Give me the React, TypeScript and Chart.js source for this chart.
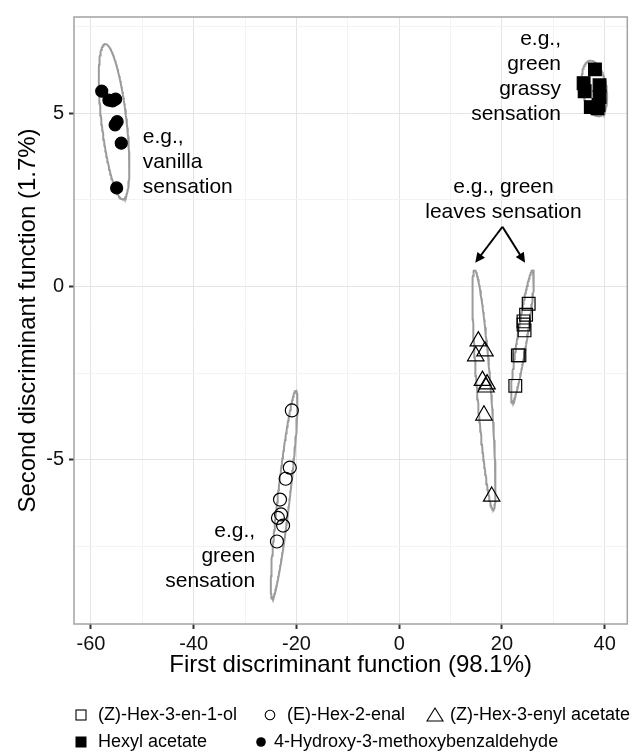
import React, { useEffect, useRef } from 'react';
import { Chart, registerables } from 'chart.js';

Chart.register(...registerables);

// ---- data ----
const hexenolX = [25.2, 24.7, 24.2, 24.2, 24.4, 23.1, 23.4, 22.6];
const hexenolY = [-0.5, -0.82, -1.01, -1.1, -1.27, -1.99, -1.99, -2.87];
const hexenalX = [-20.9, -21.3, -22.1, -23.2, -23.0, -23.6, -22.6, -23.8];
const hexenalY = [-3.58, -5.23, -5.55, -6.15, -6.58, -6.68, -6.9, -7.36];
const hexenylAcetateX = [15.4, 16.7, 14.9, 16.2, 17.1, 16.9, 16.5, 18.0];
const hexenylAcetateY = [-1.58, -1.87, -2.01, -2.72, -2.82, -2.91, -3.72, -6.06];
const hexylAcetateX = [38.1, 35.9, 36.1, 39.0, 39.0, 38.8, 37.3, 38.6];
const hexylAcetateY = [6.26, 5.86, 5.63, 5.8, 5.46, 5.23, 5.17, 5.14];
const vanillinX = [-57.9, -56.5, -55.8, -55.2, -54.9, -55.3, -54.1, -55.0];
const vanillinY = [5.63, 5.37, 5.35, 5.4, 4.75, 4.66, 4.13, 2.84];

// ellipses: order hexenol, hexenal, hexenyl acetate, hexyl acetate, vanillin
const ellipseCenterX = [24.0, -22.4, 16.5, 38.0, -55.5];
const ellipseCenterY = [-1.44, -6.0, -2.99, 5.71, 4.75];
const ellipseTopX = [26.0, -20.1, 14.7, 37.26, -57.2];
const ellipseTopY = [0.47, -3.0, 0.47, 6.51, 6.99];
const ellipseHalfWidth = [0.97, 1.2, 1.35, 2.37, 2.45];

const legendLabels = [
  '(Z)-Hex-3-en-1-ol',
  '(E)-Hex-2-enal',
  '(Z)-Hex-3-enyl acetate',
  'Hexyl acetate',
  '4-Hydroxy-3-methoxybenzaldehyde',
];

const annotationLines = [
  ['e.g.,', 'vanilla', 'sensation'],
  ['e.g.,', 'green', 'grassy', 'sensation'],
  ['e.g., green', 'leaves sensation'],
  ['e.g.,', 'green', 'sensation'],
];
const annotationX = [-49.9, 31.5, 20.3, -28.05];
const annotationY = [4.29, 7.14, 2.86, -7.06];
const annotationAlign: CanvasTextAlign[] = ['left', 'right', 'center', 'right'];

const arrowFromX = 20.1;
const arrowFromY = 1.72;
const arrowToX = [14.8, 24.5];
const arrowToY = [0.68, 0.68];

const xTitle = 'First discriminant function (98.1%)';
const yTitle = 'Second discriminant function (1.7%)';

const X_MIN = -63.3;
const X_MAX = 44.4;
const Y_MIN = -9.74;
const Y_MAX = 7.77;

const FONT = '"Liberation Sans", Arial, Helvetica, sans-serif';

function zip(xs: number[], ys: number[]) {
  return xs.map((x, i) => ({ x, y: ys[i] }));
}

function ellipsePoints(i: number) {
  const cx = ellipseCenterX[i];
  const cy = ellipseCenterY[i];
  const ax = ellipseTopX[i] - cx;
  const ay = ellipseTopY[i] - cy;
  const bx = ellipseHalfWidth[i];
  const pts: { x: number; y: number }[] = [];
  const n = 160;
  for (let k = 0; k <= n; k++) {
    const t = (k / n) * Math.PI * 2;
    pts.push({ x: cx + ax * Math.cos(t) + bx * Math.sin(t), y: cy + ay * Math.cos(t) });
  }
  return pts;
}

const overlayPlugin = {
  id: 'overlay',
  beforeDatasetsDraw(chart: any) {
    const { ctx, chartArea: a } = chart;
    ctx.save();
    ctx.strokeStyle = '#a3a3a3';
    ctx.lineWidth = 1.5;
    ctx.strokeRect(a.left, a.top, a.right - a.left, a.bottom - a.top);
    ctx.restore();
  },
  afterDatasetsDraw(chart: any) {
    const { ctx, scales } = chart;
    const xs = scales.x;
    const ys = scales.y;
    ctx.save();
    ctx.fillStyle = '#000';
    ctx.font = `21px ${FONT}`;
    ctx.textBaseline = 'middle';
    annotationLines.forEach((lines, i) => {
      const px = xs.getPixelForValue(annotationX[i]);
      const py = ys.getPixelForValue(annotationY[i]);
      ctx.textAlign = annotationAlign[i];
      lines.forEach((s, j) => ctx.fillText(s, px, py + j * 25));
    });
    // arrows
    const fx = xs.getPixelForValue(arrowFromX);
    const fy = ys.getPixelForValue(arrowFromY);
    ctx.strokeStyle = '#000';
    ctx.lineWidth = 2;
    arrowToX.forEach((tx0, i) => {
      const tx = xs.getPixelForValue(tx0);
      const ty = ys.getPixelForValue(arrowToY[i]);
      const ang = Math.atan2(ty - fy, tx - fx);
      const L = 11;
      const spread = 0.45;
      ctx.beginPath();
      ctx.moveTo(fx, fy);
      ctx.lineTo(tx - Math.cos(ang) * 6, ty - Math.sin(ang) * 6);
      ctx.stroke();
      ctx.beginPath();
      ctx.moveTo(tx, ty);
      ctx.lineTo(tx - L * Math.cos(ang - spread), ty - L * Math.sin(ang - spread));
      ctx.lineTo(tx - L * Math.cos(ang + spread), ty - L * Math.sin(ang + spread));
      ctx.closePath();
      ctx.fillStyle = '#000';
      ctx.fill();
    });
    ctx.restore();
  },
  afterDraw(chart: any) {
    const { ctx, chartArea: a } = chart;
    ctx.save();
    ctx.fillStyle = '#000';
    ctx.font = `24px ${FONT}`;
    ctx.textAlign = 'center';
    ctx.textBaseline = 'middle';
    ctx.fillText(xTitle, (a.left + a.right) / 2, 665);
    ctx.save();
    ctx.translate(28, (a.top + a.bottom) / 2);
    ctx.rotate(-Math.PI / 2);
    ctx.fillText(yTitle, 0, 0);
    ctx.restore();

    // legend
    ctx.font = `18px ${FONT}`;
    ctx.textAlign = 'left';
    ctx.textBaseline = 'middle';
    const r1 = 715;
    const r2 = 742;
    const items = [
      { sx: 81, tx: 98, y: r1, kind: 'rectOpen' },
      { sx: 270, tx: 287, y: r1, kind: 'circleOpen' },
      { sx: 435, tx: 450, y: r1, kind: 'triangle' },
      { sx: 81, tx: 98, y: r2, kind: 'rectFill' },
      { sx: 261, tx: 274, y: r2, kind: 'circleFill' },
    ];
    items.forEach((it, i) => {
      ctx.strokeStyle = '#000';
      ctx.fillStyle = '#000';
      ctx.lineWidth = 1.1;
      ctx.beginPath();
      if (it.kind === 'rectOpen') {
        ctx.strokeRect(it.sx - 5, it.y - 5, 10, 10);
      } else if (it.kind === 'rectFill') {
        ctx.fillRect(it.sx - 5.5, it.y - 5.5, 11, 11);
      } else if (it.kind === 'circleOpen') {
        ctx.arc(it.sx, it.y, 4.8, 0, Math.PI * 2);
        ctx.stroke();
      } else if (it.kind === 'circleFill') {
        ctx.arc(it.sx, it.y, 4.8, 0, Math.PI * 2);
        ctx.fill();
      } else {
        ctx.moveTo(it.sx, it.y - 7);
        ctx.lineTo(it.sx + 8, it.y + 6);
        ctx.lineTo(it.sx - 8, it.y + 6);
        ctx.closePath();
        ctx.stroke();
      }
      ctx.fillStyle = '#000';
      ctx.fillText(legendLabels[i], it.tx, it.y);
    });
    ctx.restore();
  },
};

export default function App() {
  const ref = useRef<HTMLCanvasElement | null>(null);
  useEffect(() => {
    document.body.style.margin = '0';
    const canvas = ref.current;
    if (!canvas) return;
    const pointBase = { showLine: false, borderColor: '#000', pointBorderWidth: 1.2 };
    const ellipseSets = ellipseCenterX.map((_, i) => ({
      label: 'ellipse' + i,
      data: ellipsePoints(i),
      showLine: true,
      pointRadius: 0,
      borderColor: '#9b9b9b',
      borderWidth: 2,
      tension: 0,
      fill: false,
    }));
    const chart = new Chart(canvas, {
      type: 'scatter',
      data: {
        datasets: [
          { ...pointBase, label: legendLabels[0], data: zip(hexenolX, hexenolY), pointStyle: 'rect', pointRadius: 9, backgroundColor: 'rgba(0,0,0,0)' },
          { ...pointBase, label: legendLabels[1], data: zip(hexenalX, hexenalY), pointStyle: 'circle', pointRadius: 6.5, backgroundColor: 'rgba(0,0,0,0)' },
          { ...pointBase, label: legendLabels[2], data: zip(hexenylAcetateX, hexenylAcetateY), pointStyle: 'triangle', pointRadius: 9.5, backgroundColor: 'rgba(0,0,0,0)' },
          { ...pointBase, label: legendLabels[3], data: zip(hexylAcetateX, hexylAcetateY), pointStyle: 'rect', pointRadius: 9, backgroundColor: '#000' },
          { ...pointBase, label: legendLabels[4], data: zip(vanillinX, vanillinY), pointStyle: 'circle', pointRadius: 6, backgroundColor: '#000' },
          ...ellipseSets,
        ] as any,
      },
      options: {
        animation: false,
        responsive: false,
        devicePixelRatio: 1,
        layout: { padding: { left: 0, right: 6, top: 11, bottom: 0 } },
        plugins: { legend: { display: false }, tooltip: { enabled: false } },
        scales: {
          x: {
            type: 'linear',
            min: X_MIN,
            max: X_MAX,
            afterFit: (s: any) => { s.height = 130; },
            border: { display: false },
            grid: {
              color: (c: any) => (Math.abs(c.tick.value % 20) < 1e-6 ? '#e4e4e4' : '#f3f3f3'),
              tickColor: (c: any) => (Math.abs(c.tick.value % 20) < 1e-6 ? '#333' : 'rgba(0,0,0,0)'),
              tickLength: 5,
              tickWidth: 2,
              lineWidth: 1,
            },
            ticks: {
              stepSize: 10,
              includeBounds: false,
              autoSkip: false,
              maxRotation: 0,
              padding: 3,
              color: '#111',
              font: { family: FONT, size: 20 },
              callback: (v: any) => (Math.abs(v % 20) < 1e-6 ? String(v) : ''),
            },
          },
          y: {
            type: 'linear',
            min: Y_MIN,
            max: Y_MAX,
            afterFit: (s: any) => { s.width = 74; },
            border: { display: false },
            grid: {
              color: (c: any) => (Math.abs(c.tick.value % 5) < 1e-6 ? '#e4e4e4' : '#f3f3f3'),
              tickColor: (c: any) => (Math.abs(c.tick.value % 5) < 1e-6 ? '#333' : 'rgba(0,0,0,0)'),
              tickLength: 5,
              tickWidth: 2,
              lineWidth: 1,
            },
            ticks: {
              stepSize: 2.5,
              includeBounds: false,
              autoSkip: false,
              padding: 5,
              color: '#111',
              font: { family: FONT, size: 20 },
              callback: (v: any) => (Math.abs(v % 5) < 1e-6 ? String(v) : ''),
            },
          },
        },
      } as any,
      plugins: [overlayPlugin],
    });
    return () => chart.destroy();
  }, []);
  return <canvas ref={ref} width={638} height={754} style={{ display: 'block' }} />;
}
